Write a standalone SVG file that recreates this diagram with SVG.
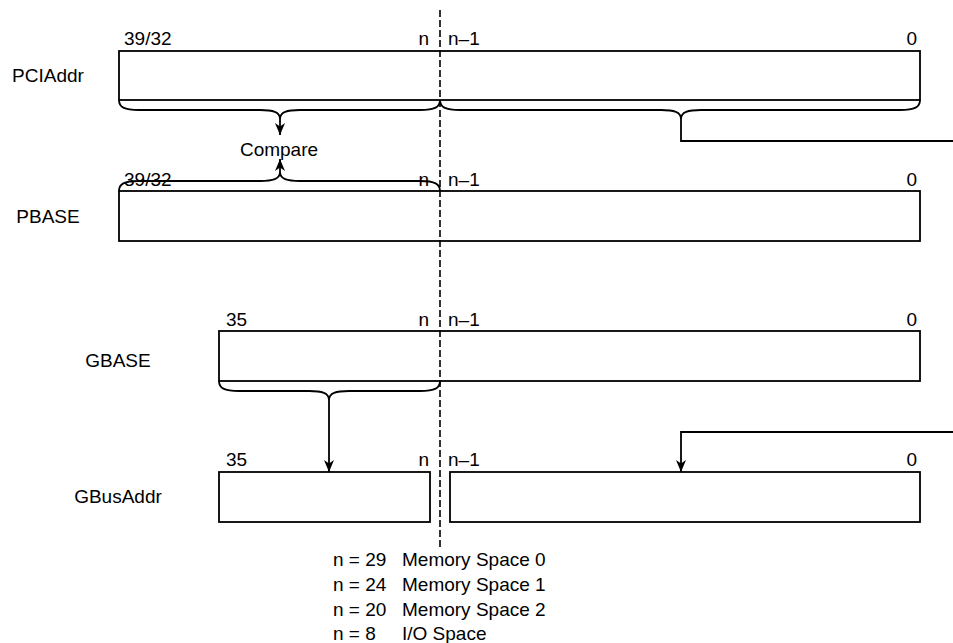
<svg xmlns="http://www.w3.org/2000/svg" width="953" height="643" viewBox="0 0 953 643">
<style>
text{font-family:"Liberation Sans",Arial,sans-serif;font-size:19px;fill:#000}
.box{fill:none;stroke:#000;stroke-width:1.8}
.ln{fill:none;stroke:#000;stroke-width:1.8}
.dash{fill:none;stroke:#000;stroke-width:1.6;stroke-dasharray:7 3}
.end{text-anchor:end}
.mid{text-anchor:middle}
</style>
<defs>
<marker id="arr" viewBox="0 0 12 10" refX="12" refY="5" markerWidth="12" markerHeight="10" markerUnits="userSpaceOnUse" orient="auto">
<path d="M0,0 L12,5 L0,10 L3.5,5 z" fill="#000"/>
</marker>
</defs>
<rect width="953" height="643" fill="#fff"/>

<g id="PCIAddr">
<text class="mid" x="48" y="82">PCIAddr</text>
<rect class="box" x="119" y="51" width="801" height="49"/>
<text x="124" y="45">39/32</text>
<text class="end" x="429" y="45">n</text>
<text x="448" y="45">n–1</text>
<text class="end" x="917" y="45">0</text>
</g>

<g id="PBASE">
<text class="mid" x="48" y="223">PBASE</text>
<rect class="box" x="119" y="191" width="801" height="50"/>
<text x="124" y="186">39/32</text>
<text class="end" x="429" y="186">n</text>
<text x="448" y="186">n–1</text>
<text class="end" x="917" y="186">0</text>
</g>

<g id="Compare">
<text class="mid" x="279" y="156">Compare</text>
</g>

<g id="GBASE">
<text class="mid" x="118" y="367">GBASE</text>
<rect class="box" x="219" y="331" width="701" height="50"/>
<text x="226" y="326">35</text>
<text class="end" x="429" y="326">n</text>
<text x="448" y="326">n–1</text>
<text class="end" x="917" y="326">0</text>
</g>

<g id="GBusAddr">
<text class="mid" x="118" y="503">GBusAddr</text>
<rect class="box" x="219" y="472" width="211" height="50"/>
<rect class="box" x="450" y="472" width="470" height="50"/>
<text x="226" y="466">35</text>
<text class="end" x="429" y="466">n</text>
<text x="448" y="466">n–1</text>
<text class="end" x="917" y="466">0</text>
</g>

<g id="legend">
<text x="333" y="566">n = 29</text><text x="402" y="566">Memory Space 0</text>
<text x="333" y="591">n = 24</text><text x="402" y="591">Memory Space 1</text>
<text x="333" y="616">n = 20</text><text x="402" y="616">Memory Space 2</text>
<text x="333" y="640">n = 8</text><text x="402" y="640">I/O Space</text>
</g>

<g id="connectors">
<line class="dash" x1="440" y1="10" x2="440" y2="548"/>
<path class="ln" d="M119,100 C119,107 124,110 139,110 L260,110 C273,110 280,112 280,119 C280,112 287,110 300,110 L420,110 C435,110 440,107 440,100"/>
<path class="ln" d="M280,119 L280,135" marker-end="url(#arr)"/>
<path class="ln" d="M440,100 C440,107 445,110 460,110 L661,110 C674,110 681,112 681,119 C681,112 688,110 701,110 L900,110 C915,110 920,107 920,100"/>
<path class="ln" d="M681,119 L681,141 L953,141"/>
<path class="ln" d="M119,191 C119,184 124,181 139,181 L260,181 C273,181 280,179 280,172 C280,179 287,181 300,181 L420,181 C435,181 440,184 440,191"/>
<path class="ln" d="M280,172 L280,159" marker-end="url(#arr)"/>
<path class="ln" d="M219,381 C219,388 224,391 239,391 L309,391 C322,391 329,393 329,400 C329,393 336,391 349,391 L420,391 C435,391 440,388 440,381"/>
<path class="ln" d="M329,400 L329,472" marker-end="url(#arr)"/>
<path class="ln" d="M953,432 L681,432 L681,472" marker-end="url(#arr)"/>
</g>
</svg>
